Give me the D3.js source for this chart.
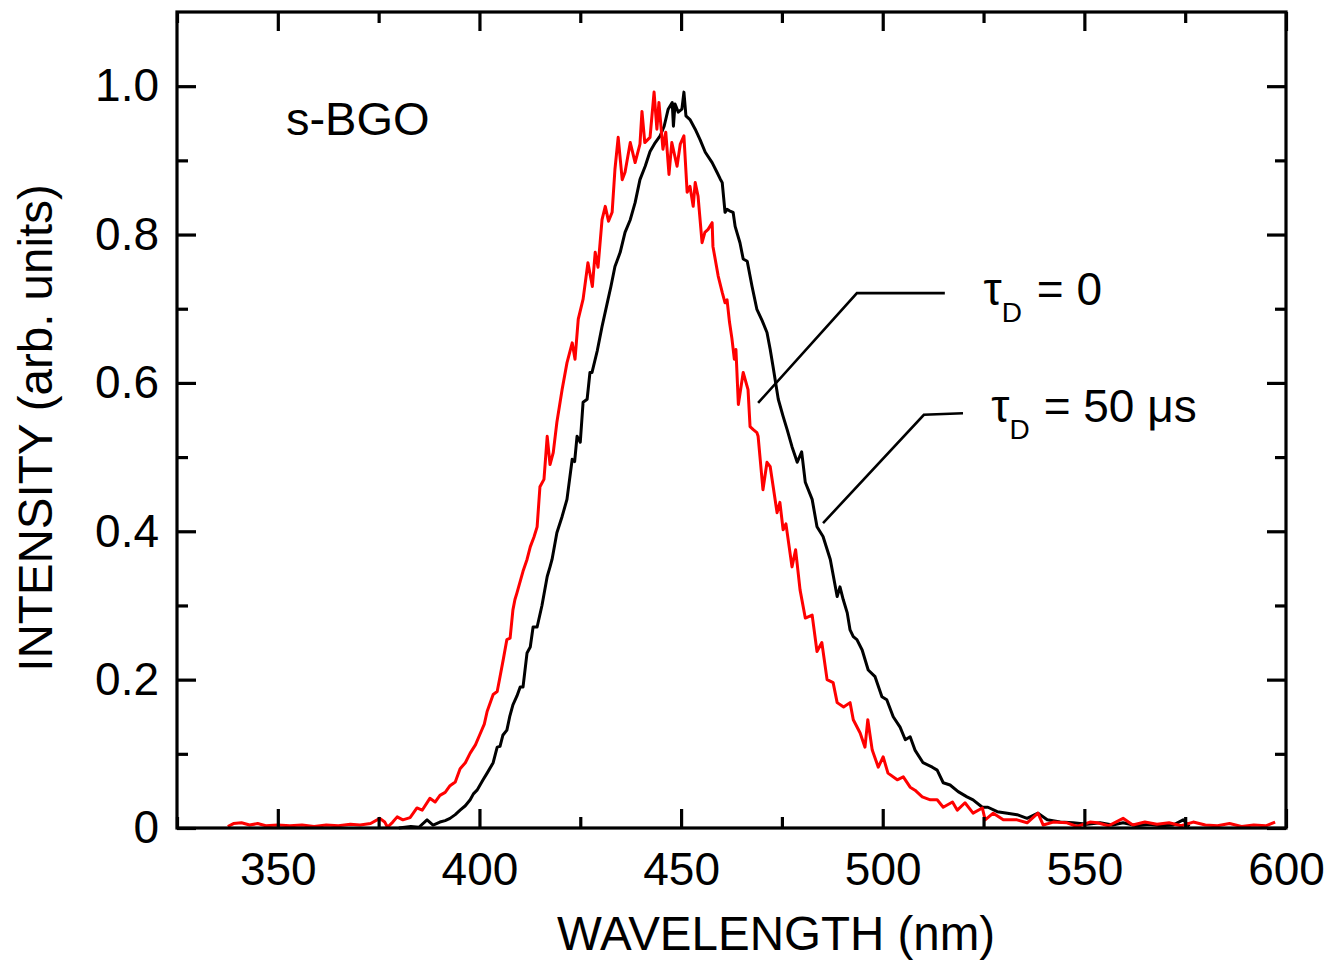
<!DOCTYPE html>
<html><head><meta charset="utf-8">
<script src="https://cdn.jsdelivr.net/npm/d3@7"></script>
<style>body{margin:0;background:#fff}svg text{font-family:"Liberation Sans",Arial,sans-serif;fill:#000}</style>
</head><body>
<svg id="chart" width="1331" height="963"></svg>
<script>
// τD = 50 µs (red)
const redWl = [337.6,339,341,343,345,347,350,353,356,359,362,365,368,370.4,373,375.3,376.5,377.2,378.5,379.6,381,382.8,384.5,385.8,387.7,389,390.2,391.5,392.7,394,395.2,396.5,397.7,399,400.1,401.2,401.9,403.4,404.4,405.1,405.9,406.8,407.6,408.3,408.8,409.3,410.8,411.8,412.6,413.5,414.3,415.0,416.0,416.8,417.5,418.3,419.2,420.5,421.7,423.0,423.7,424.5,425.7,426.9,428.0,428.7,429.4,430.4,431.2,432.0,432.9,433.6,434.4,435.4,436.1,437.4,438.6,439.8,440.3,441.0,442.3,443.3,444.0,444.5,445.5,446.2,447.0,447.7,449.0,449.8,450.7,451.5,452.2,453.0,453.5,454.2,455.2,455.9,456.7,457.7,457.9,459.2,460.2,460.9,461.4,462.0,462.6,463.2,463.6,464.2,465.4,466.6,467.1,467.9,468.8,469.1,470.3,471.3,472.1,473.8,474.5,475.3,476.0,477.5,478.4,479.5,480.8,482.5,483.7,484.9,486.2,487.7,488.7,490.3,491.9,492.7,494.4,495.6,496.3,497.4,498.9,500.1,501.3,503.6,505.1,506.8,508.0,509.8,511.8,513.5,515.0,517.3,518.5,520.4,522.4,524.7,525.4,527.4,529.9,533.3,535.8,538.5,539.8,542.3,545.7,548.2,551.4,553.2,556,559.6,562,565,568,571,574,577,580,583,586,589,592,595,597.3];
const redI = [0.002,0.006,0.007,0.004,0.006,0.003,0.004,0.003,0.004,0.002,0.004,0.003,0.005,0.004,0.006,0.013,0.008,0.001,0.008,0.015,0.011,0.014,0.027,0.024,0.040,0.035,0.044,0.048,0.057,0.062,0.080,0.088,0.101,0.112,0.126,0.140,0.157,0.180,0.184,0.204,0.227,0.254,0.256,0.294,0.308,0.317,0.346,0.362,0.379,0.392,0.406,0.460,0.470,0.528,0.490,0.506,0.547,0.591,0.627,0.654,0.632,0.686,0.713,0.762,0.730,0.776,0.756,0.820,0.838,0.818,0.830,0.888,0.931,0.874,0.884,0.924,0.897,0.922,0.966,0.924,0.931,0.992,0.942,0.978,0.915,0.938,0.881,0.924,0.892,0.922,0.933,0.857,0.865,0.838,0.870,0.852,0.789,0.803,0.807,0.816,0.784,0.744,0.722,0.708,0.712,0.682,0.660,0.632,0.645,0.571,0.614,0.591,0.541,0.537,0.533,0.528,0.456,0.493,0.487,0.425,0.439,0.402,0.410,0.352,0.375,0.321,0.283,0.287,0.238,0.250,0.200,0.196,0.169,0.163,0.169,0.146,0.128,0.109,0.146,0.105,0.082,0.096,0.074,0.065,0.069,0.055,0.051,0.042,0.038,0.038,0.028,0.035,0.024,0.034,0.020,0.027,0.011,0.020,0.011,0.011,0.007,0.020,0.004,0.008,0.007,0.002,0.008,0.007,0.003,0.013,0.004,0.008,0.005,0.007,0.003,0.008,0.004,0.003,0.006,0.002,0.004,0.003,0.008];
// τD = 0 (black)
const blackWl = [380,383,385,387,388.5,390.2,391.5,392.7,394,395.2,396.5,397.7,398.5,399.4,400.9,401.9,403.4,404.4,405.1,405.8,406.8,407.5,408.3,409.3,410.1,410.8,411.8,412.6,413.3,414.3,415.5,416.8,417.5,418.0,419.2,420.5,421.7,423.0,423.6,424.2,425.0,425.7,426.7,427.4,427.9,429.2,430.4,431.9,432.6,433.6,434.9,436.1,437.4,438.6,439.8,441.1,442.3,443.6,444.8,445.8,446.8,447.8,448.1,448.5,449.3,450.2,450.7,451.2,452.2,453.5,454.7,456.0,457.7,458.9,459.7,460.2,460.9,461.4,462.0,462.9,463.4,464.6,465.4,466.4,467.6,468.8,470.1,471.3,472.1,472.8,474.1,475.3,476.3,477.5,478.8,479.9,480.8,482.5,483.7,485.2,487.0,488.7,489.4,490.2,491.2,491.9,492.7,493.6,494.9,496.4,498.1,499.8,501.0,502.6,504.3,505.6,506.8,508.0,510.0,512.3,513.5,515.0,516.7,518.7,520.9,522.4,524.7,526.1,528.4,530.9,533.3,535.8,538.5,540.8,544.0,547.2,550.7,553.9,557,559.6,563,566,569,572,574.5,576];
const blackI = [0.000,0.002,0.001,0.011,0.004,0.008,0.010,0.013,0.018,0.024,0.030,0.038,0.046,0.051,0.065,0.074,0.088,0.109,0.110,0.125,0.132,0.150,0.166,0.178,0.190,0.190,0.236,0.244,0.271,0.271,0.300,0.339,0.352,0.362,0.398,0.420,0.443,0.497,0.494,0.528,0.520,0.574,0.578,0.614,0.614,0.643,0.676,0.713,0.730,0.757,0.776,0.803,0.820,0.843,0.874,0.892,0.912,0.924,0.933,0.946,0.969,0.978,0.946,0.976,0.965,0.969,0.992,0.960,0.955,0.942,0.928,0.911,0.897,0.884,0.875,0.870,0.830,0.834,0.832,0.830,0.811,0.789,0.767,0.764,0.730,0.699,0.684,0.668,0.645,0.622,0.578,0.555,0.537,0.514,0.493,0.507,0.466,0.443,0.406,0.393,0.362,0.312,0.325,0.308,0.290,0.267,0.258,0.254,0.240,0.213,0.204,0.177,0.173,0.150,0.136,0.119,0.123,0.105,0.088,0.082,0.078,0.061,0.058,0.049,0.042,0.038,0.028,0.028,0.022,0.020,0.018,0.013,0.020,0.011,0.008,0.007,0.005,0.007,0.004,0.007,0.003,0.005,0.003,0.004,0.011,0.002];

const xTicksMajor = [350,400,450,500,550,600];
const xTicksMinor = [325,375,425,475,525,575];
const yTicksMajor = [0,0.2,0.4,0.6,0.8,1.0];
const yTicksMinor = [0.1,0.3,0.5,0.7,0.9];
const yTickLabels = ["0","0.2","0.4","0.6","0.8","1.0"];

const svg = d3.select("#chart");
const L = 177, R = 1286, T = 12, B = 828;
const x = d3.scaleLinear().domain([325,600]).range([L,R]);
const y = d3.scaleLinear().domain([0,1.1]).range([B,T]);

const line = d3.line().x(d=>x(d[0])).y(d=>y(d[1]));
const red = redWl.map((w,i)=>[w,redI[i]]);
const black = blackWl.map((w,i)=>[w,blackI[i]]);

const plot = svg.append("g");
plot.append("path").datum(black).attr("d",line).attr("fill","none").attr("stroke","#000").attr("stroke-width",3).attr("stroke-linejoin","round");
plot.append("path").datum(red).attr("d",line).attr("fill","none").attr("stroke","#ff0000").attr("stroke-width",3).attr("stroke-linejoin","round");

// axes
function styleAxis(g){ g.select(".domain").remove(); g.selectAll(".tick line").attr("stroke","#000").attr("stroke-width",3.2); }
const fmt = d => yTickLabels[yTicksMajor.indexOf(d)];
svg.append("g").attr("transform",`translate(0,${B})`)
  .call(d3.axisBottom(x).tickValues(xTicksMajor).tickSize(-19).tickPadding(24).tickFormat(d3.format("d")))
  .call(styleAxis).call(g=>g.selectAll("text").attr("font-size",46).attr("fill","#000").attr("font-family","Liberation Sans, Arial"));
svg.append("g").attr("transform",`translate(0,${B})`)
  .call(d3.axisBottom(x).tickValues(xTicksMinor).tickSize(-11).tickFormat(""))
  .call(styleAxis);
svg.append("g").attr("transform",`translate(0,${T})`)
  .call(d3.axisTop(x).tickValues(xTicksMajor).tickSize(-19).tickFormat(""))
  .call(styleAxis);
svg.append("g").attr("transform",`translate(0,${T})`)
  .call(d3.axisTop(x).tickValues(xTicksMinor).tickSize(-11).tickFormat(""))
  .call(styleAxis);
svg.append("g").attr("transform",`translate(${L},0)`)
  .call(d3.axisLeft(y).tickValues(yTicksMajor).tickSize(-19).tickPadding(18).tickFormat(fmt))
  .call(styleAxis).call(g=>g.selectAll("text").attr("font-size",46).attr("fill","#000").attr("font-family","Liberation Sans, Arial"));
svg.append("g").attr("transform",`translate(${L},0)`)
  .call(d3.axisLeft(y).tickValues(yTicksMinor).tickSize(-11).tickFormat(""))
  .call(styleAxis);
svg.append("g").attr("transform",`translate(${R},0)`)
  .call(d3.axisRight(y).tickValues(yTicksMajor).tickSize(-19).tickFormat(""))
  .call(styleAxis);
svg.append("g").attr("transform",`translate(${R},0)`)
  .call(d3.axisRight(y).tickValues(yTicksMinor).tickSize(-11).tickFormat(""))
  .call(styleAxis);

svg.append("rect").attr("x",L).attr("y",T).attr("width",R-L).attr("height",B-T)
  .attr("fill","none").attr("stroke","#000").attr("stroke-width",3.2);

// titles
svg.append("text").attr("x",776).attr("y",950).attr("text-anchor","middle").attr("font-size",47.5).text("WAVELENGTH (nm)");
svg.append("text").attr("transform","translate(52,428) rotate(-90)").attr("text-anchor","middle").attr("font-size",47.5).text("INTENSITY (arb. units)");

// annotations
svg.append("text").attr("x",x(352.0)).attr("y",y(0.934)).attr("font-size",47).text("s-BGO");

const lead = d3.line().x(d=>x(d[0])).y(d=>y(d[1]));
svg.append("path").attr("d",lead([[515.4,0.721],[493.6,0.721],[469.1,0.573]])).attr("fill","none").attr("stroke","#000").attr("stroke-width",2.6);
svg.append("path").attr("d",lead([[519.9,0.559],[510.2,0.557],[485.2,0.411]])).attr("fill","none").attr("stroke","#000").attr("stroke-width",2.6);

function tauLabel(wx, wy, restX, rest){
  const t = svg.append("text").attr("y",y(wy)).attr("font-size",46);
  t.append("tspan").attr("x",x(wx)).text("τ");
  t.append("tspan").attr("font-size",28).attr("dy",17).text("D");
  t.append("tspan").attr("dy",-17).attr("x",x(restX)).text(rest);
}
tauLabel(525.0,0.705,538.2,"= 0");
tauLabel(526.9,0.547,539.9,"= 50 μs");
</script>
</body></html>
